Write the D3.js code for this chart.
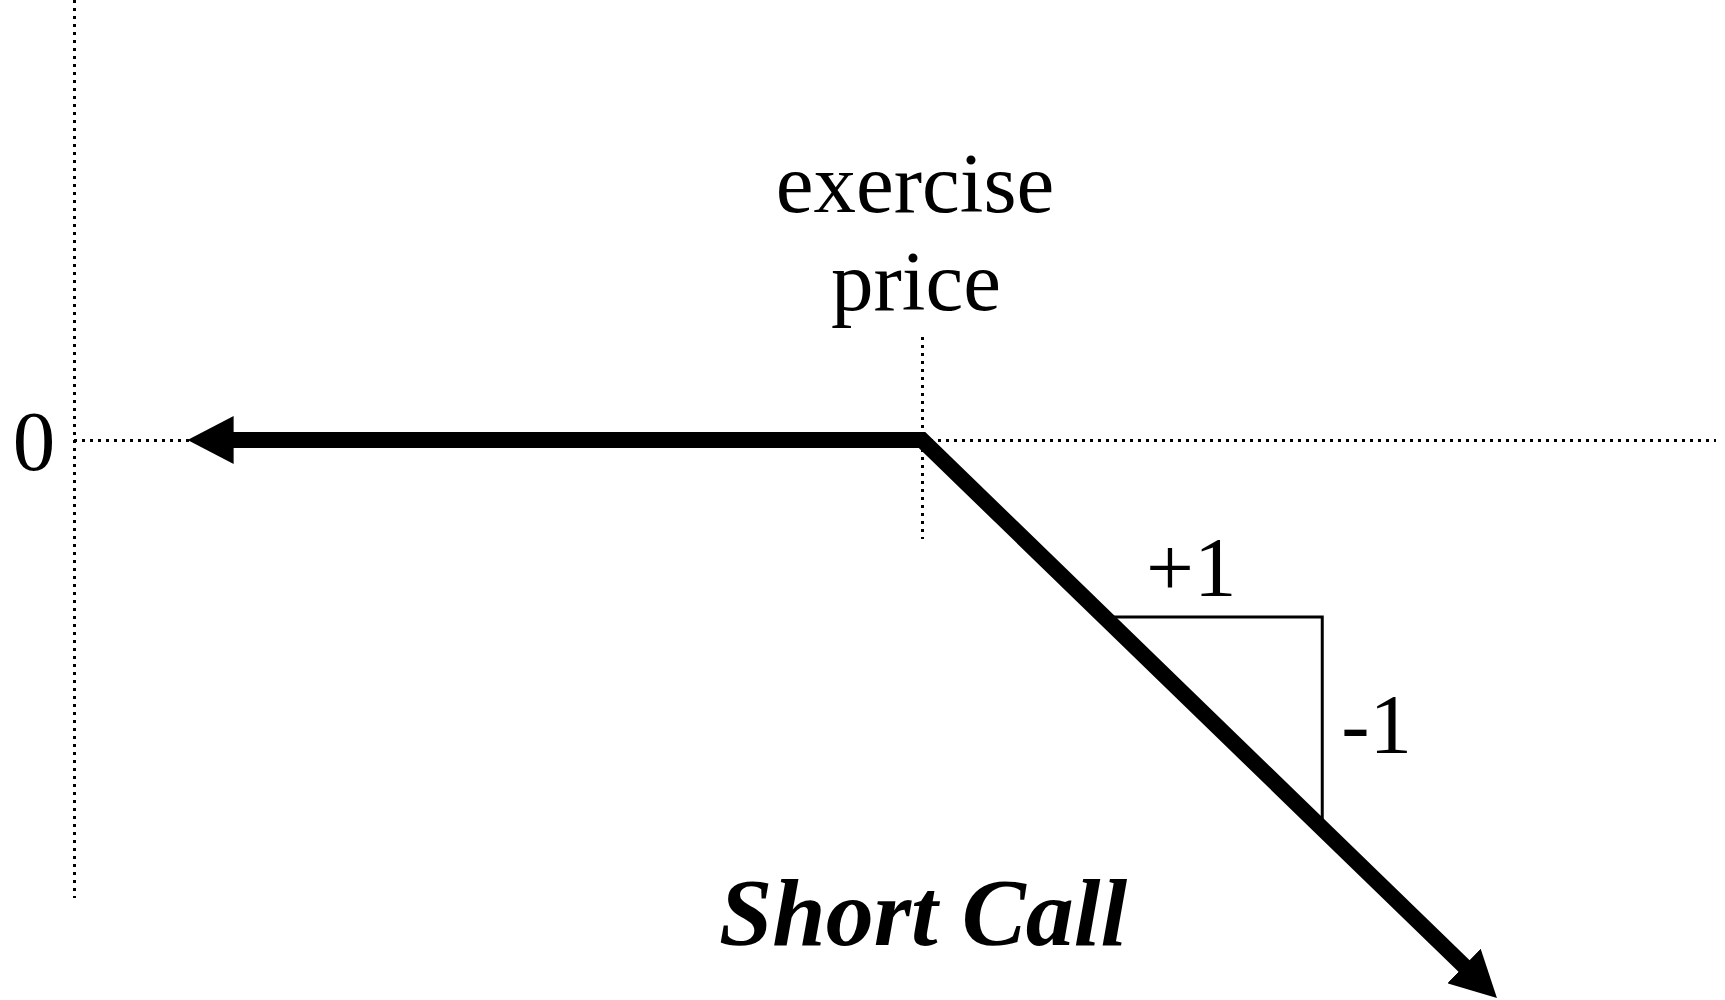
<!DOCTYPE html>
<html>
<head>
<meta charset="utf-8">
<script src="https://cdn.jsdelivr.net/npm/d3@7"></script>
<style>
  html, body { margin: 0; padding: 0; background: #fff; }
  svg { display: block; }
  text { font-family: "Liberation Serif", "Times New Roman", serif; fill: #000; }
</style>
</head>
<body>
<script>
// ---- data ----
const strike = 100;                         // exercise price
const payoffPoints = [[13.4, 0], [100, 0], [167.8, -67.8]]; // short call payoff: left arrow tip, kink, right arrow tip
const axisXRange = [0, 193.6];              // horizontal zero line extent (stock price)
const axisYRange = [53.5, -55.7];           // vertical axis extent (payoff)
const strikeTickRange = [12.5, -12];        // short dotted marker at the exercise price
const slopeTriangle = [[121.5, -21.5], [147.2, -21.5], [147.2, -47.2]];
const labels = { zero: "0", strikeTop: "exercise", strikeBottom: "price", run: "+1", rise: "-1", title: "Short Call" };

// ---- layout ----
const W = 1725, H = 1000;
const x = d3.scaleLinear().domain([0, 100]).range([74, 922]);
const y = d3.scaleLinear().domain([0, -10]).range([440, 522.3]);

const svg = d3.select("body").append("svg").attr("width", W).attr("height", H);

const defs = svg.append("defs");
const headLen = 46, headHalf = 24, shorten = 30;
defs.append("marker")
  .attr("id", "arrow")
  .attr("markerUnits", "userSpaceOnUse")
  .attr("viewBox", `0 ${-headHalf} ${headLen} ${headHalf * 2}`)
  .attr("markerWidth", headLen).attr("markerHeight", headHalf * 2)
  .attr("refX", headLen - shorten).attr("refY", 0)
  .attr("orient", "auto-start-reverse")
  .append("path")
  .attr("d", `M0,${-headHalf}L${headLen},0L0,${headHalf}Z`)
  .attr("fill", "#000");

const dotted = { stroke: "#000", "stroke-width": 3, "stroke-dasharray": "3 5", "shape-rendering": "crispEdges" };
function applyAttrs(sel, o) { Object.entries(o).forEach(([k, v]) => sel.attr(k, v)); return sel; }

// vertical axis
applyAttrs(svg.append("line")
  .attr("x1", x(0) + 0.5).attr("x2", x(0) + 0.5)
  .attr("y1", y(axisYRange[0])).attr("y2", y(axisYRange[1])), dotted);

// horizontal zero line
applyAttrs(svg.append("line")
  .attr("x1", x(axisXRange[0])).attr("x2", x(axisXRange[1]))
  .attr("y1", y(0) + 0.5).attr("y2", y(0) + 0.5), dotted);

// strike marker
applyAttrs(svg.append("line")
  .attr("x1", x(strike) + 0.5).attr("x2", x(strike) + 0.5)
  .attr("y1", y(strikeTickRange[0])).attr("y2", y(strikeTickRange[1])), dotted);

// payoff line, shortened at both ends so the arrowheads cover the tips
const px = payoffPoints.map(d => [x(d[0]), y(d[1])]);
function shortenEnd(a, b, L) {
  const dx = b[0] - a[0], dy = b[1] - a[1], len = Math.hypot(dx, dy);
  return [b[0] - dx / len * L, b[1] - dy / len * L];
}
const pts = px.slice();
pts[0] = shortenEnd(px[1], px[0], shorten);
pts[pts.length - 1] = shortenEnd(px[px.length - 2], px[px.length - 1], shorten);
svg.append("path")
  .attr("d", d3.line()(pts))
  .attr("fill", "none")
  .attr("stroke", "#000")
  .attr("stroke-width", 16)
  .attr("stroke-linejoin", "miter")
  .attr("marker-start", "url(#arrow)")
  .attr("marker-end", "url(#arrow)");

// slope triangle
svg.append("path")
  .attr("d", d3.line().x(d => x(d[0])).y(d => y(d[1]))(slopeTriangle))
  .attr("fill", "none").attr("stroke", "#000").attr("stroke-width", 3);

// texts
const fs = 85;
svg.append("text").attr("x", x(0) - 40).attr("y", y(0) + 30)
  .attr("text-anchor", "middle").attr("font-size", fs).text(labels.zero);
svg.append("text").attr("x", x(strike) - 7).attr("y", 212)
  .attr("text-anchor", "middle").attr("font-size", fs).text(labels.strikeTop);
svg.append("text").attr("x", x(strike) - 6).attr("y", 310)
  .attr("text-anchor", "middle").attr("font-size", fs).text(labels.strikeBottom);
svg.append("text").attr("x", (x(slopeTriangle[0][0]) + x(slopeTriangle[1][0])) / 2 - 22).attr("y", y(slopeTriangle[0][1]) - 21)
  .attr("text-anchor", "middle").attr("font-size", fs).text(labels.run);
svg.append("text").attr("x", x(slopeTriangle[1][0]) + 19).attr("y", 753)
  .attr("text-anchor", "start").attr("font-size", fs).text(labels.rise);
svg.append("text").attr("x", x(strike) + 1).attr("y", 945)
  .attr("text-anchor", "middle").attr("font-size", 96)
  .attr("font-weight", "bold").attr("font-style", "italic").text(labels.title);
</script>
</body>
</html>
